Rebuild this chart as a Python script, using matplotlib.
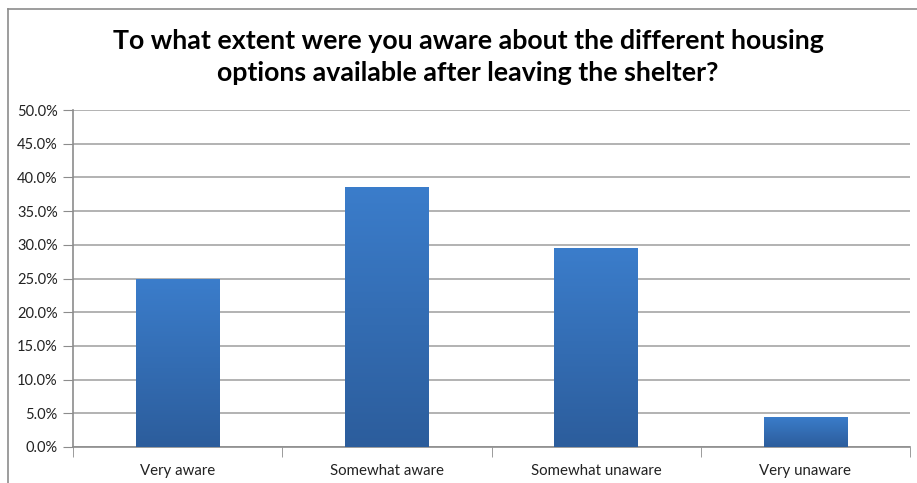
import numpy as np
import matplotlib.pyplot as plt
from matplotlib.colors import LinearSegmentedColormap
from matplotlib.lines import Line2D

categories = ["Very aware", "Somewhat aware", "Somewhat unaware", "Very unaware"]
values = [25.0, 38.6, 29.5, 4.5]
yticks = [0, 5, 10, 15, 20, 25, 30, 35, 40, 45, 50]
title = "To what extent were you aware about the different housing\noptions available after leaving the shelter?"

plt.rcParams['font.family'] = ['Lato', 'DejaVu Sans']

fig = plt.figure(figsize=(9.17, 4.83), dpi=100)
ax = fig.add_axes([73/917, 1 - 447/483, (910-73)/917, (447-110)/483])

x = np.arange(len(categories))
bars = ax.bar(x, values, width=0.4, color="#3a78c4", zorder=2)

# vertical gradient, lighter at the top
cmap = LinearSegmentedColormap.from_list("grad", ["#2c5d9c", "#3b7dcb"])
grad = np.linspace(0, 1, 256).reshape(-1, 1)
for b in bars:
    x0, y0 = b.get_x(), b.get_y()
    w, h = b.get_width(), b.get_height()
    im = ax.imshow(grad, cmap=cmap, origin="lower", aspect="auto",
                   extent=[x0, x0 + w, y0, y0 + h], zorder=3)
    im.set_clip_path(b)

ax.set_xlim(-0.5, len(categories) - 0.5)
ax.set_ylim(0, 50)
ax.set_yticks(yticks)
ax.set_yticklabels([f"{v:.1f}%" for v in yticks], fontsize=10.5, color="#222222")
ax.set_xticks(x)
ax.set_xticklabels(categories, fontsize=10.8, color="#222222")
ax.set_xticks(np.arange(-0.5, len(categories)), minor=True)
ax.tick_params(axis="x", which="major", length=0, pad=12)
ax.tick_params(axis="x", which="minor", length=7, color="#8c8c8c", direction="out")
ax.tick_params(axis="y", length=7, color="#8c8c8c", direction="out", pad=4)

ax.grid(axis="y", color="#a6a6a6", linewidth=1.2, zorder=0)
ax.set_axisbelow(True)
for s in ["top", "right"]:
    ax.spines[s].set_visible(False)
for s in ["left", "bottom"]:
    ax.spines[s].set_color("#8c8c8c")
    ax.spines[s].set_linewidth(1.2)

fig.text(468/917, 1 - 57/483, title, ha="center", va="center",
         fontsize=19.3, fontweight="bold", linespacing=1.4)

# outer chart border (top and left visible)
fig.add_artist(Line2D([8/917, 1], [1 - 9/483, 1 - 9/483], color="#8c8c8c", linewidth=1.2))
fig.add_artist(Line2D([8/917, 8/917], [0, 1 - 9/483], color="#8c8c8c", linewidth=1.2))

fig.savefig("out.png", dpi=100)
